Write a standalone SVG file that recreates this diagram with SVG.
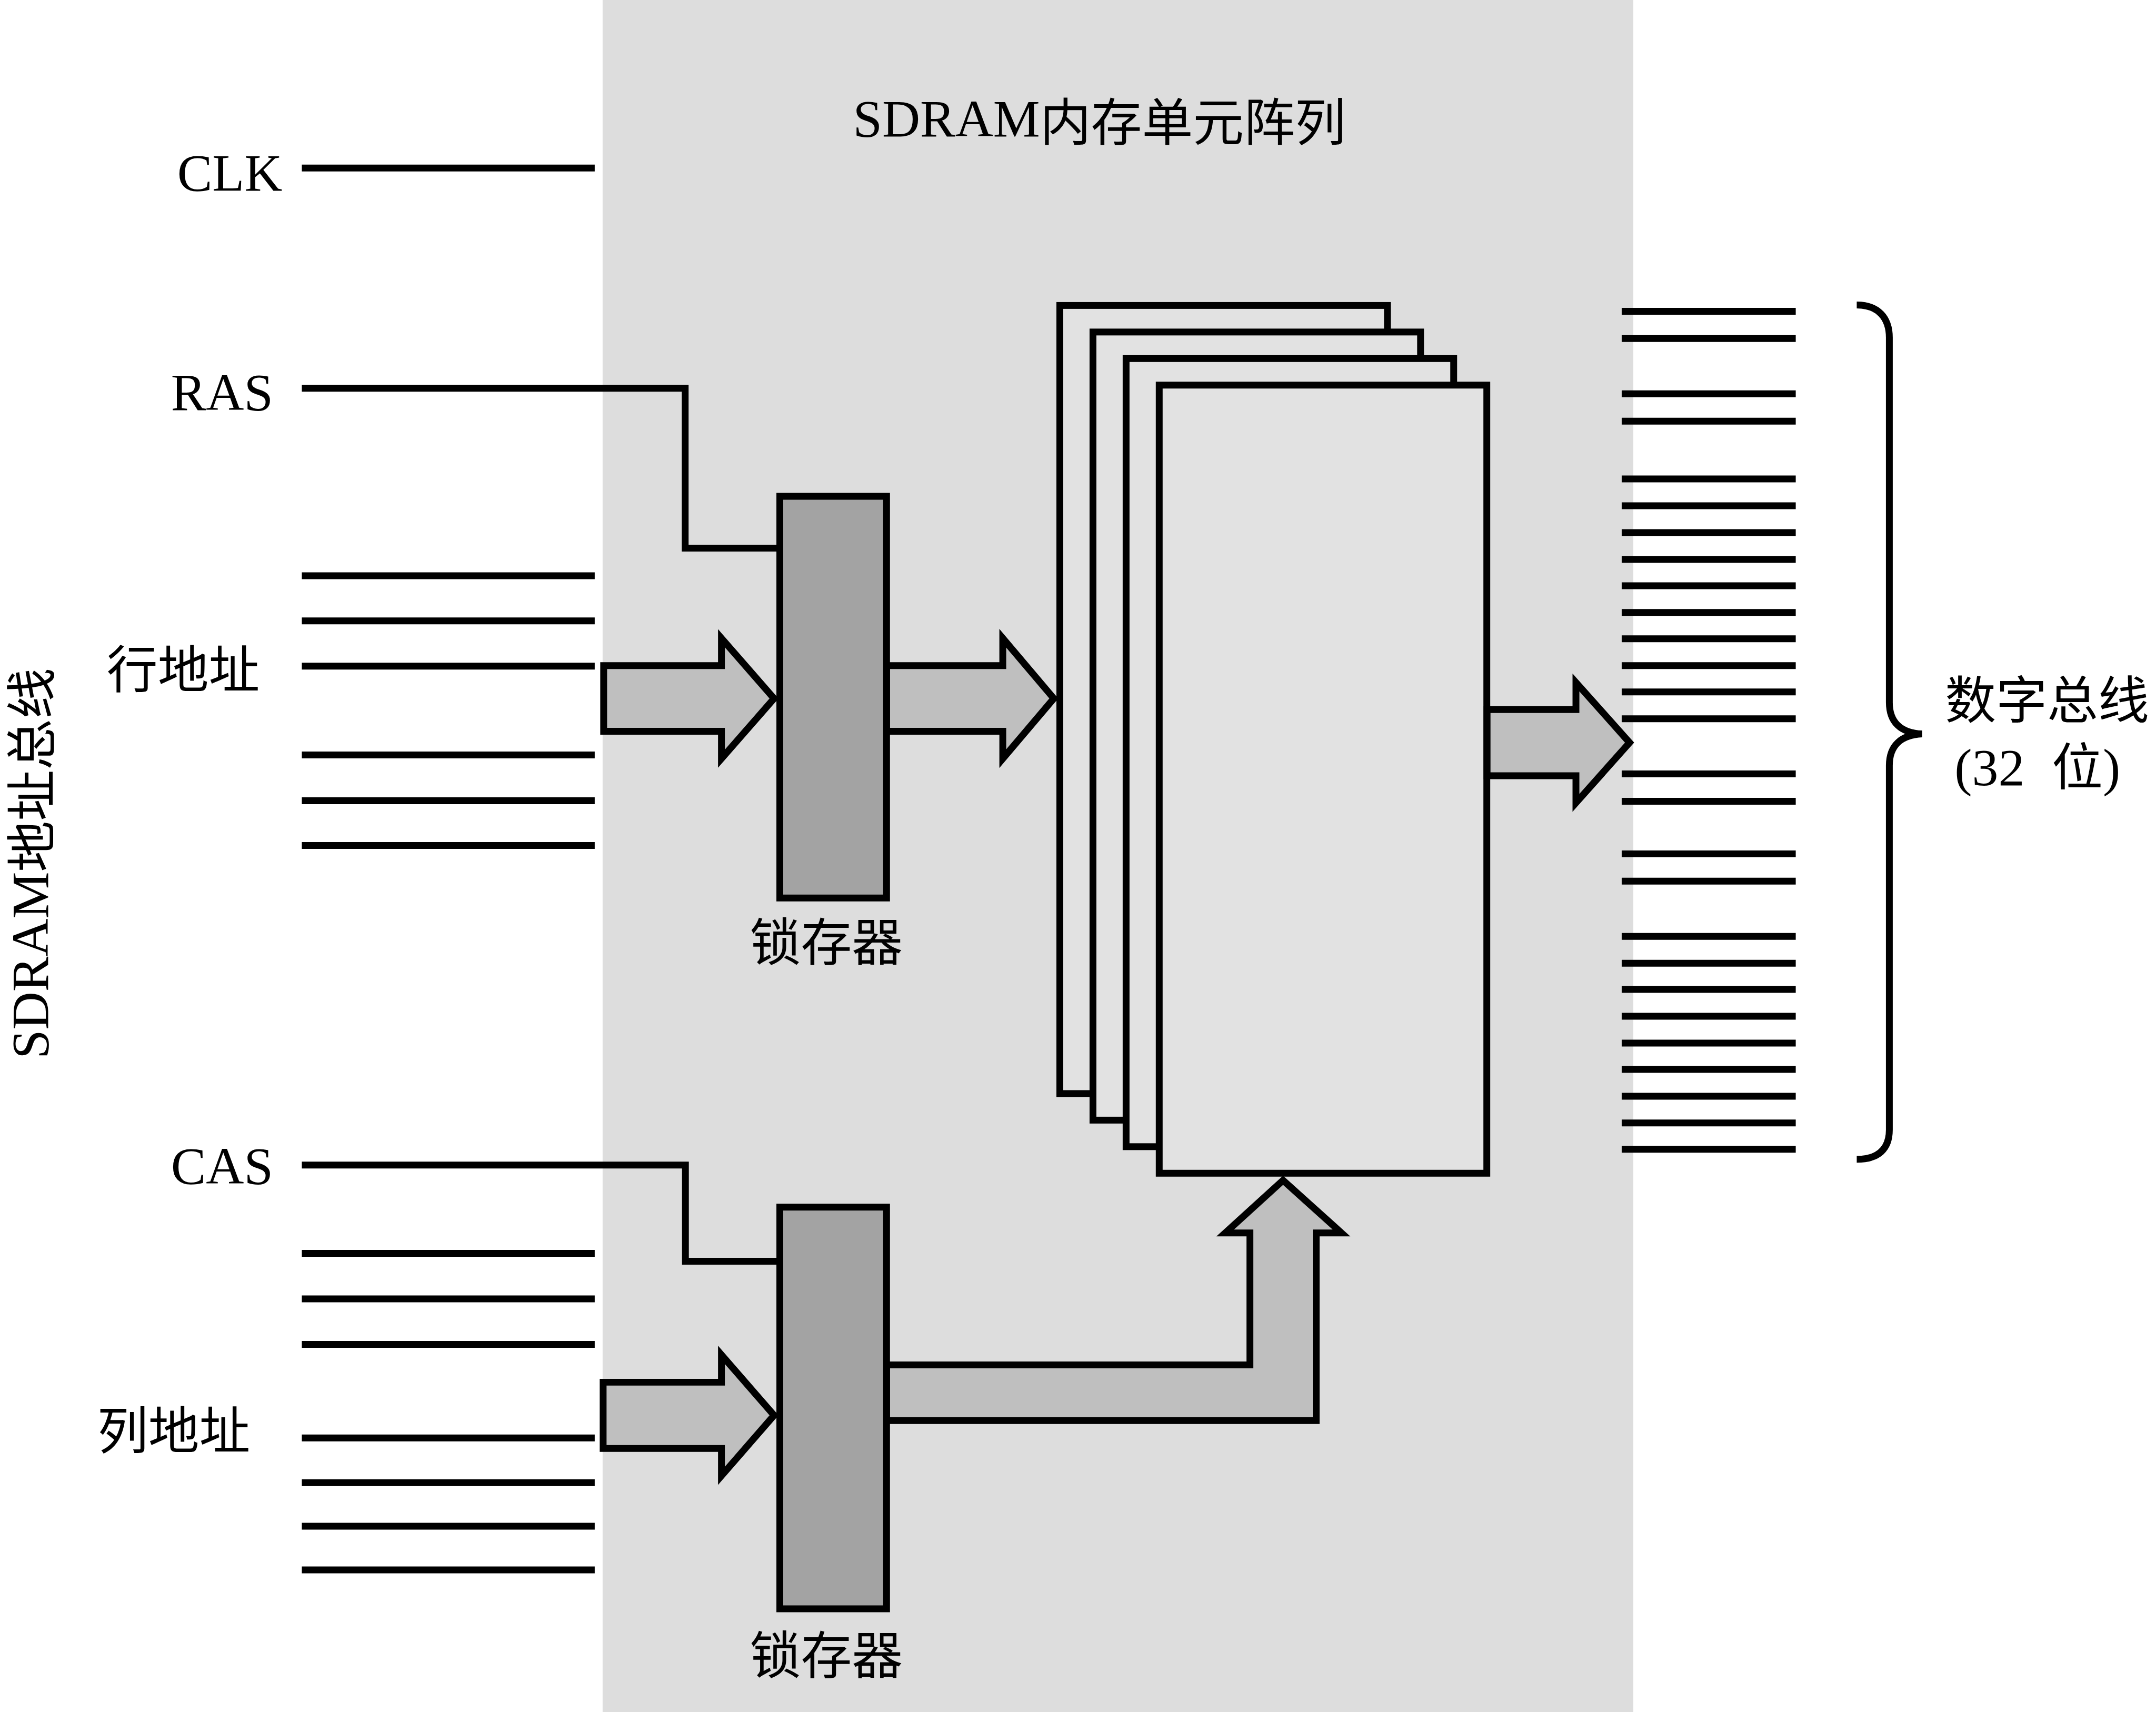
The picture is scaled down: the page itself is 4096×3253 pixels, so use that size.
<svg xmlns="http://www.w3.org/2000/svg" width="4096" height="3253" viewBox="0 0 4096 3253">
<style>
.ln{stroke:#000;stroke-width:13;fill:none;stroke-linejoin:miter}
.arrow{fill:#bfbfbf;stroke:#000;stroke-width:13;stroke-linejoin:miter;stroke-miterlimit:10}
.latch{fill:#a3a3a3;stroke:#000;stroke-width:13}
.cell{fill:#e2e2e2;stroke:#000;stroke-width:13}
.lat{font-family:"Liberation Serif","Noto Sans CJK SC",serif;font-size:100px;fill:#000}
.cjk{font-family:"Noto Sans CJK SC","Liberation Serif",sans-serif;font-size:97px;fill:#000}
</style>
<rect x="0" y="0" width="4096" height="3253" fill="#ffffff"/>
<g transform="scale(0.999)">
<g id="memory-panel">
<rect x="1146" y="0" width="1960" height="3260" fill="#dddddd"/>
<text class="lat" x="1622" y="259">SDRAM<tspan class="cjk" dy="8">内存单元阵列</tspan></text>
</g>
<g id="address-bus">
<path class="ln" d="M574 319.5H1131M574 1095H1131M574 1181H1131M574 1267H1131M574 1436H1131M574 1523H1131M574 1608H1131M574 2384H1131M574 2470.5H1131M574 2557H1131M574 2735H1131M574 2820H1131M574 2903H1131M574 2986H1131"/>
<text class="lat" transform="translate(91,2014) rotate(-90)">SDRAM<tspan class="cjk" dy="4">地址总线</tspan></text>
<text class="lat" x="337" y="362">CLK</text>
<text class="lat" x="325" y="780">RAS</text>
<text class="lat" x="325" y="2251">CAS</text>
<text class="cjk" x="203" y="1308">行地址</text>
<text class="cjk" x="185" y="2756">列地址</text>
</g>
<g id="data-bus">
<path class="ln" d="M3084 592H3415M3084 644H3415M3084 749H3415M3084 801H3415M3084 911H3415M3084 962H3415M3084 1013H3415M3084 1064H3415M3084 1114H3415M3084 1165H3415M3084 1215H3415M3084 1266H3415M3084 1316H3415M3084 1367H3415M3084 1472H3415M3084 1524H3415M3084 1624H3415M3084 1676H3415M3084 1781H3415M3084 1832H3415M3084 1882H3415M3084 1933H3415M3084 1984H3415M3084 2034H3415M3084 2085H3415M3084 2136H3415M3084 2186H3415"/>
<path class="ln" stroke-width="12.5" d="M3531 580C3572 580 3593 605 3593 642L3593 1336C3593 1374 3615 1394 3655 1396C3615 1398 3593 1418 3593 1456L3593 2149C3593 2186 3572 2205 3531 2205"/>
<text class="cjk" x="3699" y="1366">数字总线</text>
<text class="lat" y="1493"><tspan x="3717">(32 </tspan><tspan class="cjk" x="3902">位</tspan>)</text>
</g>
<g id="cell-array">
<rect class="cell" x="2015.5" y="581" width="623" height="1499"/>
<rect class="cell" x="2078.5" y="631.5" width="623" height="1499"/>
<rect class="cell" x="2141.5" y="682" width="623" height="1499"/>
<rect class="cell" x="2204.5" y="732.5" width="623" height="1499"/>
</g>
<g id="connectors">
<path class="ln" d="M574 738.5H1303V1042.5H1483"/>
<path class="ln" d="M574 2216H1303.5V2399H1483"/>
<polygon class="arrow" points="1148,1266 1372,1266 1372,1214 1472,1328.5 1372,1443 1372,1391 1148,1391"/>
<polygon class="arrow" points="1686,1266 1907,1266 1907,1214 2004,1328.5 1907,1443 1907,1391 1686,1391"/>
<polygon class="arrow" points="2828,1349.5 2997,1349.5 2997,1298 3099,1412.5 2997,1527 2997,1475.5 2828,1475.5"/>
<polygon class="arrow" points="1147,2629 1372,2629 1372,2577 1472,2692 1372,2807 1372,2755 1147,2755"/>
<polygon class="arrow" points="1686,2596 2377,2596 2377,2345 2330,2345 2440,2245 2551,2345 2503,2345 2503,2702 1686,2702"/>
</g>
<g id="row-latch">
<rect class="latch" x="1483" y="944" width="203" height="764"/>
<text class="cjk" x="1426" y="1827">锁存器</text>
</g>
<g id="col-latch">
<rect class="latch" x="1483" y="2296" width="203" height="764"/>
<text class="cjk" x="1426" y="3183">锁存器</text>
</g>
</g>
</svg>
